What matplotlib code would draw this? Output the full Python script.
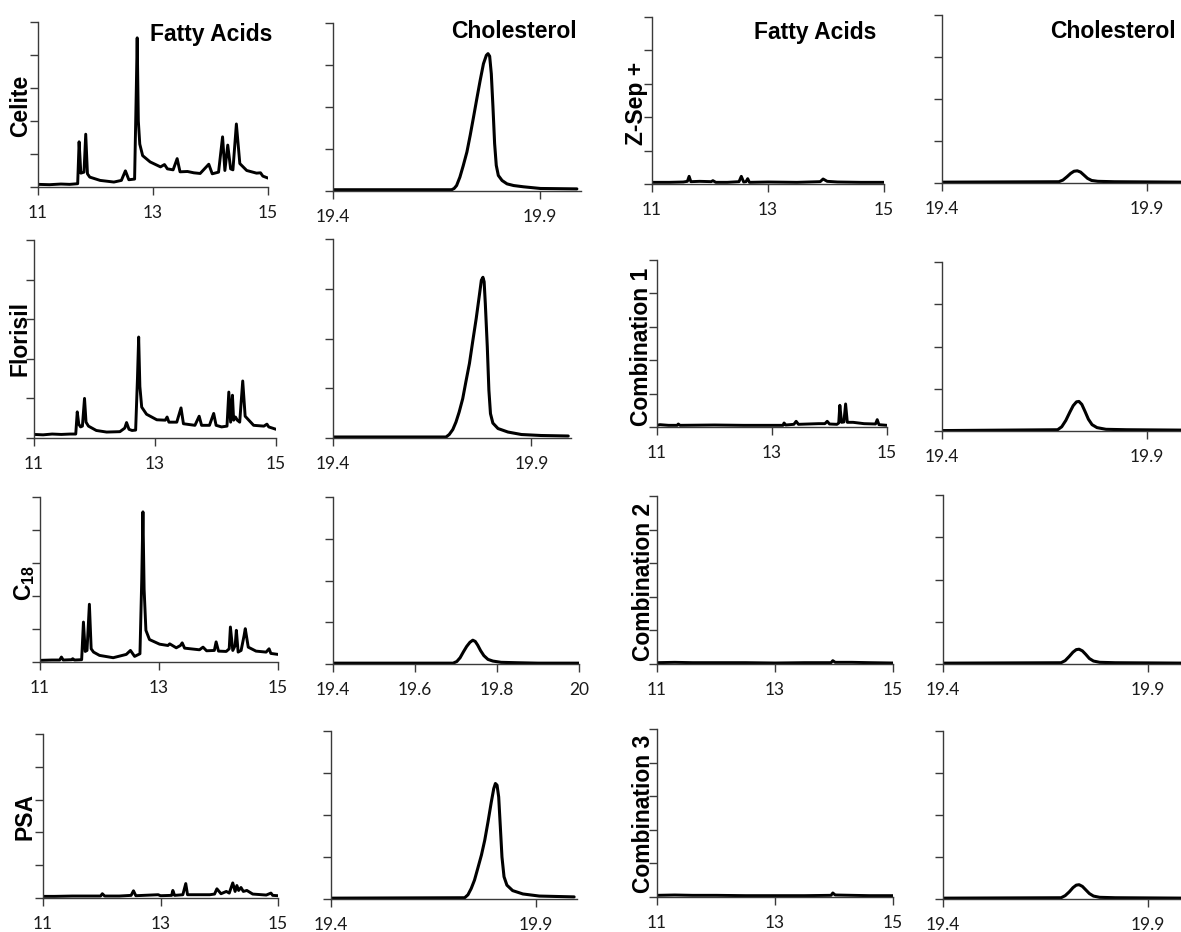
import matplotlib
matplotlib.use("Agg")
import matplotlib.pyplot as plt

plt.rcParams['mathtext.fontset'] = 'custom'
plt.rcParams['mathtext.rm'] = 'Liberation Sans:bold'
plt.rcParams['mathtext.bf'] = 'Liberation Sans:bold'

# ---------------- data (retention time, signal in tick units) ----------------
CELITE_FA = [(11.0, 0.08), (11.2, 0.07), (11.4, 0.09), (11.55, 0.08), (11.69, 0.1), (11.715, 1.37),
             (11.745, 0.42), (11.8, 0.45), (11.83, 1.6), (11.86, 0.4), (11.9, 0.3), (12.08, 0.2),
             (12.32, 0.15), (12.45, 0.2), (12.52, 0.49), (12.58, 0.22), (12.68, 0.24), (12.71, 3.0),
             (12.725, 4.52), (12.745, 2.0), (12.77, 1.3), (12.82, 0.95), (12.95, 0.76), (13.13, 0.61),
             (13.2, 0.68), (13.25, 0.55), (13.35, 0.52), (13.42, 0.86), (13.47, 0.46), (13.6, 0.47),
             (13.71, 0.43), (13.82, 0.41), (13.97, 0.69), (14.03, 0.4), (14.14, 0.45), (14.21, 1.52),
             (14.25, 0.5), (14.3, 1.27), (14.35, 0.55), (14.39, 0.52), (14.45, 1.91), (14.51, 0.71),
             (14.63, 0.5), (14.8, 0.42), (14.87, 0.43), (14.91, 0.33), (15.0, 0.27)]
FLORISIL_FA = [(11.0, 0.09), (11.15, 0.08), (11.3, 0.1), (11.45, 0.09), (11.6, 0.1), (11.69, 0.1),
               (11.715, 0.66), (11.74, 0.35), (11.77, 0.28), (11.8, 0.3), (11.835, 1.0), (11.86, 0.4),
               (11.9, 0.3), (12.03, 0.19), (12.2, 0.15), (12.42, 0.16), (12.5, 0.25), (12.53, 0.39),
               (12.57, 0.22), (12.62, 0.19), (12.68, 0.2), (12.71, 1.5), (12.73, 2.55), (12.75, 1.3),
               (12.78, 0.78), (12.86, 0.6), (13.03, 0.46), (13.17, 0.45), (13.2, 0.53), (13.23, 0.4),
               (13.36, 0.4), (13.43, 0.76), (13.47, 0.36), (13.66, 0.32), (13.73, 0.55), (13.77, 0.32),
               (13.9, 0.32), (13.97, 0.62), (14.01, 0.32), (14.1, 0.28), (14.19, 0.3), (14.22, 1.16),
               (14.25, 0.4), (14.28, 1.08), (14.3, 0.45), (14.33, 0.53), (14.36, 0.45), (14.4, 0.4),
               (14.45, 1.44), (14.49, 0.55), (14.63, 0.32), (14.8, 0.3), (14.85, 0.35), (14.88, 0.28),
               (15.0, 0.22)]
C18_FA = [(11.0, 0.05), (11.2, 0.06), (11.33, 0.06), (11.36, 0.15), (11.39, 0.06), (11.53, 0.07),
          (11.55, 0.1), (11.58, 0.06), (11.7, 0.07), (11.73, 1.21), (11.76, 0.32), (11.79, 0.35),
          (11.83, 1.75), (11.86, 0.4), (11.9, 0.3), (12.0, 0.2), (12.23, 0.13), (12.45, 0.23),
          (12.52, 0.35), (12.59, 0.17), (12.68, 0.25), (12.71, 2.5), (12.73, 4.55), (12.75, 2.2),
          (12.78, 0.96), (12.84, 0.68), (13.01, 0.54), (13.15, 0.5), (13.18, 0.55), (13.29, 0.43),
          (13.36, 0.5), (13.39, 0.58), (13.43, 0.42), (13.68, 0.37), (13.74, 0.45), (13.8, 0.34),
          (13.93, 0.35), (13.96, 0.61), (14.0, 0.33), (14.13, 0.32), (14.18, 0.4), (14.2, 1.06),
          (14.24, 0.35), (14.28, 0.5), (14.3, 0.96), (14.33, 0.3), (14.38, 0.35), (14.43, 0.8),
          (14.45, 1.01), (14.5, 0.45), (14.63, 0.33), (14.8, 0.3), (14.85, 0.4), (14.88, 0.26),
          (15.0, 0.23)]
PSA_FA = [(11.0, 0.05), (11.2, 0.05), (11.5, 0.06), (11.86, 0.06), (11.98, 0.06), (12.01, 0.13),
          (12.05, 0.06), (12.3, 0.06), (12.5, 0.08), (12.54, 0.22), (12.58, 0.07), (12.96, 0.1),
          (13.0, 0.07), (13.19, 0.08), (13.21, 0.23), (13.24, 0.08), (13.38, 0.1), (13.43, 0.44),
          (13.46, 0.1), (13.84, 0.1), (13.92, 0.12), (13.96, 0.28), (14.03, 0.13), (14.12, 0.2),
          (14.17, 0.15), (14.23, 0.46), (14.27, 0.2), (14.3, 0.38), (14.33, 0.23), (14.37, 0.32),
          (14.41, 0.2), (14.47, 0.23), (14.57, 0.12), (14.8, 0.09), (14.88, 0.15), (14.91, 0.08),
          (15.0, 0.07)]
ZSEP_FA = [(11.0, 0.05), (11.3, 0.05), (11.54, 0.06), (11.61, 0.08), (11.64, 0.23), (11.67, 0.07),
           (11.82, 0.08), (12.02, 0.07), (12.05, 0.1), (12.1, 0.05), (12.3, 0.05), (12.5, 0.07),
           (12.54, 0.23), (12.58, 0.06), (12.62, 0.07), (12.65, 0.16), (12.68, 0.05), (13.0, 0.06),
           (13.5, 0.05), (13.9, 0.07), (13.95, 0.15), (14.02, 0.08), (14.2, 0.06), (14.6, 0.05),
           (15.0, 0.05)]
COMB1_FA = [(11.0, 0.05), (11.05, 0.07), (11.2, 0.05), (11.35, 0.05), (11.37, 0.09), (11.4, 0.05),
            (12.0, 0.06), (12.5, 0.05), (13.0, 0.05), (13.19, 0.05), (13.21, 0.12), (13.24, 0.06),
            (13.38, 0.08), (13.42, 0.17), (13.46, 0.08), (13.81, 0.1), (13.92, 0.1), (13.96, 0.17),
            (14.0, 0.09), (14.13, 0.08), (14.16, 0.12), (14.18, 0.65), (14.21, 0.14), (14.25, 0.15),
            (14.28, 0.69), (14.31, 0.14), (14.41, 0.14), (14.6, 0.1), (14.8, 0.09), (14.83, 0.22),
            (14.86, 0.07), (15.0, 0.05)]
COMB2_FA = [(11.0, 0.04), (11.3, 0.05), (11.6, 0.04), (12.0, 0.04), (12.5, 0.04), (13.0, 0.03),
            (13.5, 0.04), (13.95, 0.04), (13.98, 0.1), (14.02, 0.05), (14.3, 0.05), (14.6, 0.04),
            (15.0, 0.03)]
COMB3_FA = [(11.0, 0.05), (11.3, 0.06), (11.6, 0.05), (12.0, 0.05), (12.5, 0.04), (13.0, 0.04),
            (13.5, 0.04), (13.95, 0.05), (13.98, 0.12), (14.02, 0.06), (14.3, 0.05), (14.6, 0.04),
            (15.0, 0.04)]

CELITE_CHOL = [(19.4, 0.03), (19.6, 0.03), (19.687, 0.03), (19.693, 0.06), (19.699, 0.13), (19.707, 0.33),
               (19.715, 0.6), (19.724, 0.93), (19.732, 1.33), (19.74, 1.76), (19.748, 2.2), (19.756, 2.63),
               (19.764, 3.03), (19.771, 3.23), (19.775, 3.27), (19.779, 3.21), (19.783, 2.79),
               (19.787, 2.0), (19.791, 1.13), (19.795, 0.61), (19.8, 0.37), (19.809, 0.25),
               (19.821, 0.17), (19.837, 0.13), (19.861, 0.1), (19.902, 0.06), (19.99, 0.05)]
FLORISIL_CHOL = [(19.4, 0.02), (19.685, 0.02), (19.693, 0.07), (19.702, 0.17), (19.71, 0.32),
                 (19.718, 0.52), (19.727, 0.79), (19.735, 1.13), (19.744, 1.5), (19.752, 1.93),
                 (19.761, 2.4), (19.769, 2.87), (19.774, 3.17), (19.778, 3.23), (19.781, 3.14),
                 (19.784, 2.7), (19.789, 1.83), (19.793, 0.96), (19.797, 0.49), (19.803, 0.3),
                 (19.816, 0.19), (19.841, 0.12), (19.875, 0.07), (19.925, 0.05), (19.993, 0.04)]
C18_CHOL = [(19.4, 0.02), (19.693, 0.02), (19.702, 0.06), (19.71, 0.15), (19.718, 0.29), (19.726, 0.42),
            (19.734, 0.52), (19.741, 0.57), (19.747, 0.54), (19.753, 0.45), (19.76, 0.32),
            (19.768, 0.2), (19.778, 0.11), (19.79, 0.07), (19.81, 0.04), (19.85, 0.03), (19.9, 0.02),
            (20.0, 0.02)]
PSA_CHOL = [(19.4, 0.02), (19.726, 0.03), (19.734, 0.1), (19.742, 0.25), (19.75, 0.45), (19.758, 0.73),
            (19.767, 1.05), (19.775, 1.4), (19.783, 1.84), (19.791, 2.31), (19.797, 2.63),
            (19.801, 2.75), (19.805, 2.71), (19.809, 2.43), (19.813, 1.72), (19.817, 1.0),
            (19.822, 0.53), (19.829, 0.33), (19.843, 0.2), (19.868, 0.12), (19.908, 0.07),
            (19.993, 0.05)]
ZSEP_CHOL = [(19.4, 0.02), (19.685, 0.03), (19.695, 0.07), (19.705, 0.15), (19.714, 0.23),
             (19.722, 0.28), (19.73, 0.29), (19.738, 0.26), (19.746, 0.19), (19.755, 0.11),
             (19.765, 0.06), (19.78, 0.04), (19.82, 0.03), (20.0, 0.02)]
COMB1_CHOL = [(19.4, 0.01), (19.682, 0.03), (19.692, 0.1), (19.702, 0.25), (19.712, 0.45), (19.72, 0.6),
              (19.728, 0.69), (19.734, 0.7), (19.741, 0.63), (19.749, 0.46), (19.757, 0.28),
              (19.766, 0.15), (19.778, 0.08), (19.8, 0.04), (19.85, 0.03), (20.0, 0.02)]
COMB2_CHOL = [(19.4, 0.02), (19.688, 0.03), (19.698, 0.08), (19.708, 0.18), (19.717, 0.28),
              (19.725, 0.34), (19.732, 0.35), (19.74, 0.31), (19.748, 0.23), (19.757, 0.13),
              (19.767, 0.07), (19.782, 0.04), (19.82, 0.03), (20.0, 0.02)]
COMB3_CHOL = [(19.4, 0.02), (19.688, 0.03), (19.698, 0.08), (19.708, 0.17), (19.717, 0.27),
              (19.725, 0.33), (19.732, 0.34), (19.74, 0.3), (19.748, 0.22), (19.757, 0.13),
              (19.767, 0.07), (19.782, 0.04), (19.82, 0.03), (20.0, 0.02)]

ROW_LABELS_LEFT = ["Celite", "Florisil", r"$\mathrm{C}_{\mathrm{18}}$", "PSA"]
ROW_LABELS_RIGHT = ["Z-Sep +", "Combination 1", "Combination 2", "Combination 3"]
COL_TITLES = ["Fatty Acids", "Cholesterol", "Fatty Acids", "Cholesterol"]

FA_TICKS = [11, 13, 15]
FA_TICKLABELS = ["11", "13", "15"]
CHOL_TICKS = [19.4, 19.9]
CHOL_TICKLABELS = ["19.4", "19.9"]
C18_CHOL_TICKS = [19.4, 19.6, 19.8, 20.0]
C18_CHOL_TICKLABELS = ["19.4", "19.6", "19.8", "20"]

# ---------------- layout ----------------
W, H = 1181, 932
fig = plt.figure(figsize=(W / 100, H / 100), dpi=100)

# (left, right, top, bottom) in pixels for each panel
BOXES = [
    [(38, 268, 22, 187), (333, 581, 23, 191), (652, 884, 17, 184), (942, 1188, 15, 183)],
    [(34, 276, 240, 438), (333, 571, 239, 438), (657, 887, 260, 427), (942, 1188, 262, 431)],
    [(40, 278, 497, 662), (333, 579, 497, 664), (657, 893, 496, 664), (943, 1189, 495, 664)],
    [(43, 278, 734, 898), (331, 577, 731, 899), (657, 893, 729, 897), (943, 1189, 731, 899)],
]

TRACES = [
    [CELITE_FA, CELITE_CHOL, ZSEP_FA, ZSEP_CHOL],
    [FLORISIL_FA, FLORISIL_CHOL, COMB1_FA, COMB1_CHOL],
    [C18_FA, C18_CHOL, COMB2_FA, COMB2_CHOL],
    [PSA_FA, PSA_CHOL, COMB3_FA, COMB3_CHOL],
]

SPINE = '#3a3a3a'
TICKFONT = dict(family='Lato', size=12.5)

for r in range(4):
    for c in range(4):
        l, rt, t, b = BOXES[r][c]
        ax = fig.add_axes([l / W, 1 - b / H, (rt - l) / W, (b - t) / H])
        data = TRACES[r][c]
        xs = [p[0] for p in data]
        ys = [p[1] for p in data]
        is_fa = (c % 2 == 0)
        ax.plot(xs, ys, color='black', lw=2.1 if is_fa else 2.2,
                solid_joinstyle='round', solid_capstyle='round')
        if is_fa:
            ax.set_xlim(11, 15)
            ax.set_ylim(0, 5)
            ax.set_yticks(range(6))
            ax.set_xticks(FA_TICKS)
            ax.set_xticklabels(FA_TICKLABELS, **TICKFONT)
        else:
            ax.set_xlim(19.4, 20.0)
            ax.set_ylim(0, 4)
            ax.set_yticks(range(5))
            if r == 2 and c == 1:
                ax.set_xticks(C18_CHOL_TICKS)
                ax.set_xticklabels(C18_CHOL_TICKLABELS, **TICKFONT)
            else:
                ax.set_xticks(CHOL_TICKS)
                ax.set_xticklabels(CHOL_TICKLABELS, **TICKFONT)
        ax.set_yticklabels([])
        for s in ('top', 'right'):
            ax.spines[s].set_visible(False)
        for s in ('left', 'bottom'):
            ax.spines[s].set_color(SPINE)
            ax.spines[s].set_linewidth(1.0)
        ax.tick_params(direction='out', length=6, width=1.0, color=SPINE, pad=7,
                       labelcolor='#1a1a1a')
        ax.patch.set_alpha(0)

TITLE_POS = [(211, 34), (514, 32), (815, 33), (1113, 32)]
for (x, y), txt in zip(TITLE_POS, COL_TITLES):
    fig.text(x / W, 1 - y / H, txt, ha='center', va='center', fontsize=16.5,
             fontweight='bold', family='Liberation Sans')

LEFT_POS = [(21, 106), (20, 338), (25, 583), (25, 816)]
RIGHT_POS = [(636, 103), (641, 347), (643, 582), (643, 814)]
for (x, y), txt in zip(LEFT_POS + RIGHT_POS, ROW_LABELS_LEFT + ROW_LABELS_RIGHT):
    fig.text(x / W, 1 - y / H, txt, ha='center', va='center', rotation=90, fontsize=16.5,
             fontweight='bold', family='Liberation Sans')

fig.savefig('out.png', dpi=100, facecolor='white')
